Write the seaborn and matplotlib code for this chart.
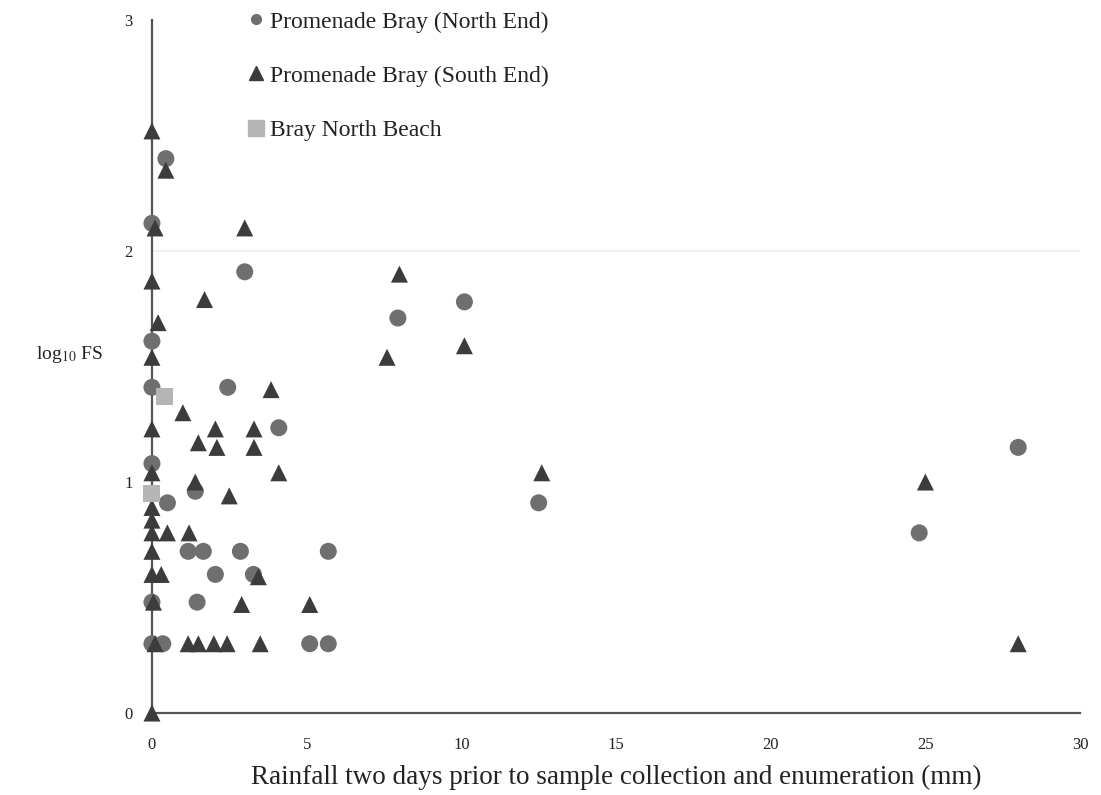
import numpy as np
import pandas as pd
import seaborn as sns
import matplotlib.pyplot as plt
from matplotlib.lines import Line2D

# Rainfall (mm) two days before sampling vs log10 faecal streptococci
north_rain = [0.45, 0.0, 3.0, 7.95, 10.1, 0.0, 0.0, 2.45, 4.1, 0.0, 1.4, 0.5, 12.5,
              1.17, 1.66, 2.86, 5.7, 2.05, 3.28, 0.0, 1.46, 0.0, 0.35, 5.1, 5.7,
              24.8, 28.0]
north_logfs = [2.40, 2.12, 1.91, 1.71, 1.78, 1.61, 1.41, 1.41, 1.235, 1.08, 0.96, 0.91, 0.91,
               0.70, 0.70, 0.70, 0.70, 0.60, 0.60, 0.48, 0.48, 0.30, 0.30, 0.30, 0.30,
               0.78, 1.15]

south_rain = [0.0, 0.45, 0.1, 3.0, 0.0, 1.7, 8.0, 0.2, 7.6, 10.1, 0.0, 3.85, 1.0,
              0.0, 2.05, 3.3, 1.5, 2.1, 3.3, 4.1, 0.0, 12.6, 25.0, 1.4, 2.5,
              0.0, 0.0, 0.0, 0.5, 1.2, 0.0, 0.0, 0.3, 3.44, 0.05, 2.9, 5.1,
              0.1, 1.17, 1.5, 2.0, 2.43, 3.5, 28.0, 0.0]
south_logfs = [2.52, 2.35, 2.10, 2.10, 1.87, 1.79, 1.90, 1.69, 1.54, 1.59, 1.54, 1.40, 1.30,
               1.23, 1.23, 1.23, 1.17, 1.15, 1.15, 1.04, 1.04, 1.04, 1.00, 1.00, 0.94,
               0.89, 0.835, 0.78, 0.78, 0.78, 0.70, 0.60, 0.60, 0.59, 0.48, 0.47, 0.47,
               0.30, 0.30, 0.30, 0.30, 0.30, 0.30, 0.30, 0.0]

beach_rain = [0.42, 0.0]
beach_logfs = [1.37, 0.95]

sites = ["Promenade Bray (North End)", "Promenade Bray (South End)", "Bray North Beach"]
x_ticks = [0, 5, 10, 15, 20, 25, 30]
y_ticks = [0, 1, 2, 3]

df = pd.DataFrame({
    "rain": north_rain + south_rain + beach_rain,
    "logfs": north_logfs + south_logfs + beach_logfs,
    "site": [sites[0]] * len(north_rain) + [sites[1]] * len(south_rain) + [sites[2]] * len(beach_rain),
})

colors = {sites[0]: "#6f6f6f", sites[1]: "#3c3c3c", sites[2]: "#b5b5b5"}
markers = {sites[0]: "o", sites[1]: "^", sites[2]: "s"}

sns.set_theme(style="white")
plt.rcParams["font.family"] = ["Liberation Serif", "DejaVu Serif"]
plt.rcParams["mathtext.fontset"] = "stix"

fig = plt.figure(figsize=(11.01, 7.95), dpi=100)
ax = fig.add_axes([0.138, 0.1031, 0.843, 0.8717])

sns.scatterplot(data=df, x="rain", y="logfs", hue="site", style="site",
                palette=colors, markers=markers, s=150, linewidth=0,
                legend=False, clip_on=False, ax=ax, zorder=3)

ax.set_xlim(0, 30)
ax.set_ylim(0, 3)
ax.set_xticks(x_ticks)
ax.set_yticks(y_ticks)
ax.axhline(2, color="#ececec", lw=1.2, zorder=0)

for side in ["top", "right"]:
    ax.spines[side].set_visible(False)
for side in ["left", "bottom"]:
    ax.spines[side].set_color("#555555")
    ax.spines[side].set_linewidth(1.6)

ax.tick_params(axis="x", length=0, pad=17, labelsize=12, colors="#222222")
ax.tick_params(axis="y", length=0, pad=14, labelsize=12, colors="#222222")

ax.set_xlabel("Rainfall two days prior to sample collection and enumeration (mm)",
              fontsize=19.5, color="#222222", labelpad=9)
ax.set_ylabel(r"log$_{10}$ FS", fontsize=14, color="#222222", rotation=0,
              ha="center", va="center")
ax.yaxis.set_label_coords(-0.089, 0.517)

handles = [
    Line2D([], [], marker="o", ls="none", color=colors[sites[0]], markersize=7),
    Line2D([], [], marker="^", ls="none", color=colors[sites[1]], markersize=10),
    Line2D([], [], marker="s", ls="none", color=colors[sites[2]], markersize=11),
]
ax.legend(handles, sites, loc="upper left", bbox_to_anchor=(0.089, 1.03),
          frameon=False, fontsize=17, labelspacing=1.38, handlelength=0.8,
          handletextpad=0.2, borderpad=0, labelcolor="#222222")

fig.savefig("out.png", dpi=100)
